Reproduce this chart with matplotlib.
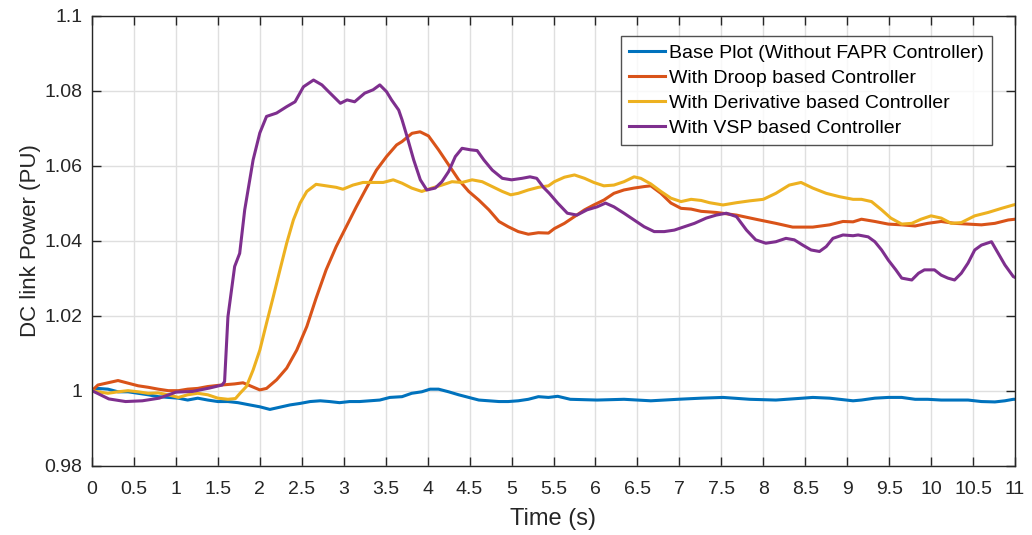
import matplotlib.pyplot as plt

plt.rcParams['font.family'] = ['Liberation Sans', 'DejaVu Sans']

# values (time in s, power in PU)
t_base = [0, 0.07, 0.19, 0.31, 0.43, 0.55, 0.67, 0.79, 0.91, 1.03, 1.14, 1.26, 1.38, 1.5, 1.62,
          1.74, 1.88, 2.0, 2.12, 2.24, 2.36, 2.48, 2.6, 2.72, 2.83, 2.95, 3.07, 3.19, 3.31, 3.43,
          3.55, 3.695, 3.81, 3.93, 4.03, 4.13, 4.25, 4.37, 4.49, 4.61, 4.73, 4.85, 4.96, 5.08,
          5.2, 5.32, 5.44, 5.55, 5.7, 6.02, 6.34, 6.5, 6.66, 6.98, 7.26, 7.52, 7.84, 8.15, 8.47,
          8.59, 8.79, 9.07, 9.17, 9.33, 9.49, 9.65, 9.81, 9.96, 10.12, 10.28, 10.44, 10.6, 10.76,
          10.88, 10.98, 11.0]
p_base = [1.0, 1.0006, 1.0004, 0.9997, 0.9997, 0.9993, 0.9989, 0.9984, 0.9982, 0.998, 0.9975,
          0.998, 0.9975, 0.9971, 0.9971, 0.9968, 0.9962, 0.9957, 0.995, 0.9956, 0.9962, 0.9966,
          0.9971, 0.9973, 0.9971, 0.9968, 0.9971, 0.9971, 0.9973, 0.9975, 0.9982, 0.9984, 0.9993,
          0.9997, 1.0004, 1.0004, 0.9997, 0.9989, 0.9982, 0.9975, 0.9973, 0.9971, 0.9971, 0.9973,
          0.9977, 0.9984, 0.9982, 0.9985, 0.9977, 0.9975, 0.9977, 0.9975, 0.9973, 0.9977, 0.998,
          0.9982, 0.9977, 0.9975, 0.998, 0.9982, 0.998, 0.9973, 0.9975, 0.998, 0.9982, 0.9982,
          0.9977, 0.9977, 0.9975, 0.9975, 0.9975, 0.9971, 0.997, 0.9973, 0.9977, 0.9977]

t_droop = [0, 0.07, 0.19, 0.31, 0.43, 0.55, 0.67, 0.79, 0.91, 1.03, 1.14, 1.26, 1.38, 1.54, 1.7,
           1.8, 1.884, 2.0, 2.08, 2.2, 2.32, 2.44, 2.56, 2.67, 2.79, 2.91, 3.03, 3.15, 3.27, 3.39,
           3.51, 3.63, 3.695, 3.814, 3.91, 4.01, 4.13, 4.25, 4.37, 4.49, 4.61, 4.73, 4.85, 4.96,
           5.08, 5.2, 5.32, 5.44, 5.51, 5.63, 5.75, 5.87, 5.98, 6.1, 6.22, 6.34, 6.46, 6.58, 6.66,
           6.78, 6.9, 7.02, 7.14, 7.26, 7.44, 7.68, 7.91, 8.15, 8.35, 8.59, 8.79, 8.95, 9.07, 9.17,
           9.33, 9.49, 9.65, 9.81, 9.96, 10.12, 10.28, 10.44, 10.6, 10.76, 10.92, 11.0]
p_droop = [1.0, 1.0015, 1.0021, 1.0027, 1.002, 1.0013, 1.0009, 1.0004, 1.0, 1.0, 1.0004, 1.0006,
           1.0011, 1.0015, 1.0018, 1.0021, 1.0013, 1.0002, 1.0006, 1.0029, 1.006, 1.0108, 1.0171,
           1.0246, 1.0322, 1.0384, 1.0437, 1.049, 1.054, 1.0588, 1.0624, 1.0655, 1.0664, 1.0686,
           1.069, 1.0679, 1.0642, 1.0602, 1.0562, 1.0531, 1.0508, 1.0482, 1.0451, 1.0437, 1.0424,
           1.0417, 1.0421, 1.042, 1.0432, 1.0446, 1.0464, 1.0482, 1.0495, 1.0508, 1.0526, 1.0535,
           1.054, 1.0544, 1.0546, 1.0526, 1.05, 1.0486, 1.0484, 1.0478, 1.0475, 1.0468, 1.0457,
           1.0446, 1.0436, 1.0436, 1.0442, 1.0451, 1.045, 1.0457, 1.0451, 1.0444, 1.0442, 1.0439,
           1.0446, 1.0451, 1.0446, 1.0444, 1.0442, 1.0446, 1.0455, 1.0457]

t_deriv = [0, 0.07, 0.19, 0.31, 0.43, 0.55, 0.67, 0.79, 0.91, 1.03, 1.14, 1.26, 1.38, 1.5, 1.62,
           1.71, 1.764, 1.84, 1.92, 2.0, 2.08, 2.16, 2.24, 2.32, 2.4, 2.48, 2.56, 2.67, 2.79, 2.91,
           2.99, 3.11, 3.23, 3.35, 3.47, 3.59, 3.695, 3.81, 3.93, 4.05, 4.17, 4.29, 4.41, 4.53,
           4.65, 4.77, 4.89, 4.99, 5.08, 5.2, 5.32, 5.44, 5.51, 5.63, 5.75, 5.87, 5.98, 6.1, 6.22,
           6.34, 6.46, 6.54, 6.66, 6.78, 6.9, 7.02, 7.14, 7.26, 7.36, 7.52, 7.68, 7.84, 8.0, 8.15,
           8.31, 8.45, 8.59, 8.75, 8.91, 9.07, 9.17, 9.29, 9.41, 9.52, 9.65, 9.77, 9.88, 10.0,
           10.12, 10.24, 10.36, 10.52, 10.68, 10.84, 10.98, 11.0]
p_deriv = [1.0, 0.9997, 0.9993, 0.9997, 1.0, 0.9997, 0.9993, 0.9994, 0.9989, 0.9982, 0.9989,
           0.9993, 0.9989, 0.998, 0.9977, 0.9979, 0.9993, 1.0011, 1.0055, 1.0108, 1.018, 1.025,
           1.0322, 1.0393, 1.0455, 1.05, 1.0531, 1.055, 1.0546, 1.0542, 1.0537, 1.0548, 1.0555,
           1.0555, 1.0555, 1.0562, 1.0553, 1.054, 1.0531, 1.054, 1.0548, 1.0557, 1.0555, 1.0562,
           1.0557, 1.0544, 1.0531, 1.0522, 1.0526, 1.0535, 1.0542, 1.0546, 1.0557, 1.0569, 1.0575,
           1.0566, 1.0555, 1.0546, 1.0548, 1.0557, 1.057, 1.0566, 1.0551, 1.0531, 1.0513, 1.0504,
           1.051, 1.0507, 1.0501, 1.0495, 1.0501, 1.0506, 1.051, 1.0526, 1.0548, 1.0555, 1.054,
           1.0526, 1.0517, 1.051, 1.051, 1.0504, 1.0482, 1.046, 1.0444, 1.0446, 1.0457, 1.0466,
           1.046, 1.0446, 1.0448, 1.0466, 1.0475, 1.0486, 1.0495, 1.0496]

t_vsp = [0, 0.2, 0.4, 0.6, 0.8, 1.0, 1.2, 1.4, 1.55, 1.58, 1.62, 1.7, 1.76, 1.82, 1.92, 2.0, 2.08,
         2.2, 2.32, 2.42, 2.52, 2.64, 2.74, 2.82, 2.96, 3.04, 3.13, 3.25, 3.35, 3.43, 3.51, 3.57,
         3.655, 3.695, 3.755, 3.834, 3.913, 3.99, 4.09, 4.17, 4.25, 4.33, 4.41, 4.51, 4.59, 4.67,
         4.77, 4.89, 5.0, 5.125, 5.22, 5.3, 5.38, 5.45, 5.55, 5.665, 5.78, 5.9, 6.02, 6.12, 6.22,
         6.34, 6.46, 6.58, 6.7, 6.82, 6.94, 7.06, 7.18, 7.32, 7.44, 7.56, 7.68, 7.8, 7.91, 8.03,
         8.15, 8.27, 8.37, 8.47, 8.57, 8.67, 8.75, 8.83, 8.95, 9.07, 9.13, 9.25, 9.33, 9.41, 9.49,
         9.58, 9.65, 9.77, 9.85, 9.92, 10.04, 10.12, 10.2, 10.28, 10.36, 10.44, 10.52, 10.6, 10.72,
         10.8, 10.88, 10.98, 11.0]
p_vsp = [1.0, 0.9978, 0.9971, 0.9973, 0.998, 0.9996, 0.9998, 1.0007, 1.0015, 1.0024, 1.0197,
         1.0331, 1.0366, 1.0482, 1.0615, 1.0687, 1.0731, 1.074, 1.0757, 1.077, 1.081, 1.0828,
         1.0815, 1.0797, 1.0766, 1.0775, 1.077, 1.0793, 1.0802, 1.0815, 1.0797, 1.0775, 1.0748,
         1.0722, 1.0677, 1.0615, 1.0562, 1.0535, 1.054, 1.0557, 1.0584, 1.0624, 1.0646, 1.0642,
         1.064, 1.0615, 1.0588, 1.0566, 1.0562, 1.0566, 1.057, 1.0566, 1.0542, 1.0526, 1.05,
         1.0473, 1.0468, 1.0482, 1.049, 1.05, 1.049, 1.0473, 1.0455, 1.0437, 1.0424, 1.0424,
         1.0428, 1.0437, 1.0446, 1.046, 1.0468, 1.0473, 1.0464, 1.0428, 1.0402, 1.0393, 1.0397,
         1.0406, 1.0402, 1.0388, 1.0375, 1.0371, 1.0384, 1.0406, 1.0415, 1.0413, 1.0415, 1.041,
         1.0397, 1.0375, 1.0348, 1.0322, 1.03, 1.0295, 1.0313, 1.0322, 1.0322, 1.0308, 1.03,
         1.0295, 1.0313, 1.034, 1.0375, 1.0388, 1.0397, 1.0366, 1.0335, 1.0304, 1.0302]

labels = ['Base Plot (Without FAPR Controller)', 'With Droop based Controller',
          'With Derivative based Controller', 'With VSP based Controller']
colors = ['#0072BD', '#D95319', '#EDB120', '#7E2F8E']

x_ticks = [i * 0.5 for i in range(23)]
x_ticklabels = ['%g' % v for v in x_ticks]
y_ticks = [0.98, 1.0, 1.02, 1.04, 1.06, 1.08, 1.1]
y_ticklabels = ['0.98', '1', '1.02', '1.04', '1.06', '1.08', '1.1']

fig = plt.figure(figsize=(10.32, 5.35), dpi=100)
ax = fig.add_axes([92 / 1032, 1 - 465.7 / 535, 923 / 1032, 450.2 / 535])

series = [(t_base, p_base), (t_droop, p_droop), (t_deriv, p_deriv), (t_vsp, p_vsp)]
for (t, p), lab, c in zip(series, labels, colors):
    ax.plot(t, p, color=c, lw=2.2, label=lab)

ax.set_xlim(0, 11)
ax.set_ylim(0.98, 1.1)
ax.set_xticks(x_ticks)
ax.set_xticklabels(x_ticklabels)
ax.set_yticks(y_ticks)
ax.set_yticklabels(y_ticklabels)

ax.grid(True, color='#dfdfdf', lw=1)
ax.set_axisbelow(True)
for s in ax.spines.values():
    s.set_color('#262626')
    s.set_linewidth(1)
ax.tick_params(direction='in', length=6.5, width=1, colors='#262626', labelsize=14,
               top=True, right=True)
ax.tick_params(axis='x', pad=11)
ax.tick_params(axis='y', pad=7)

ax.set_xlabel('Time (s)', fontsize=17, color='#262626', labelpad=7)
ax.set_ylabel('DC link Power (PU)', fontsize=16, color='#262626', labelpad=2)

leg = ax.legend(loc='upper right', bbox_to_anchor=(992 / 1032, 1 - 36 / 535),
                bbox_transform=fig.transFigure, fontsize=14, frameon=True, fancybox=False,
                edgecolor='#262626', handlelength=1.85, handletextpad=0.2, borderpad=0.42,
                labelspacing=0.38, borderaxespad=0)
leg.get_frame().set_linewidth(1)
for txt in leg.get_texts():
    txt.set_color('#000000')

fig.savefig('out.png', dpi=100)
